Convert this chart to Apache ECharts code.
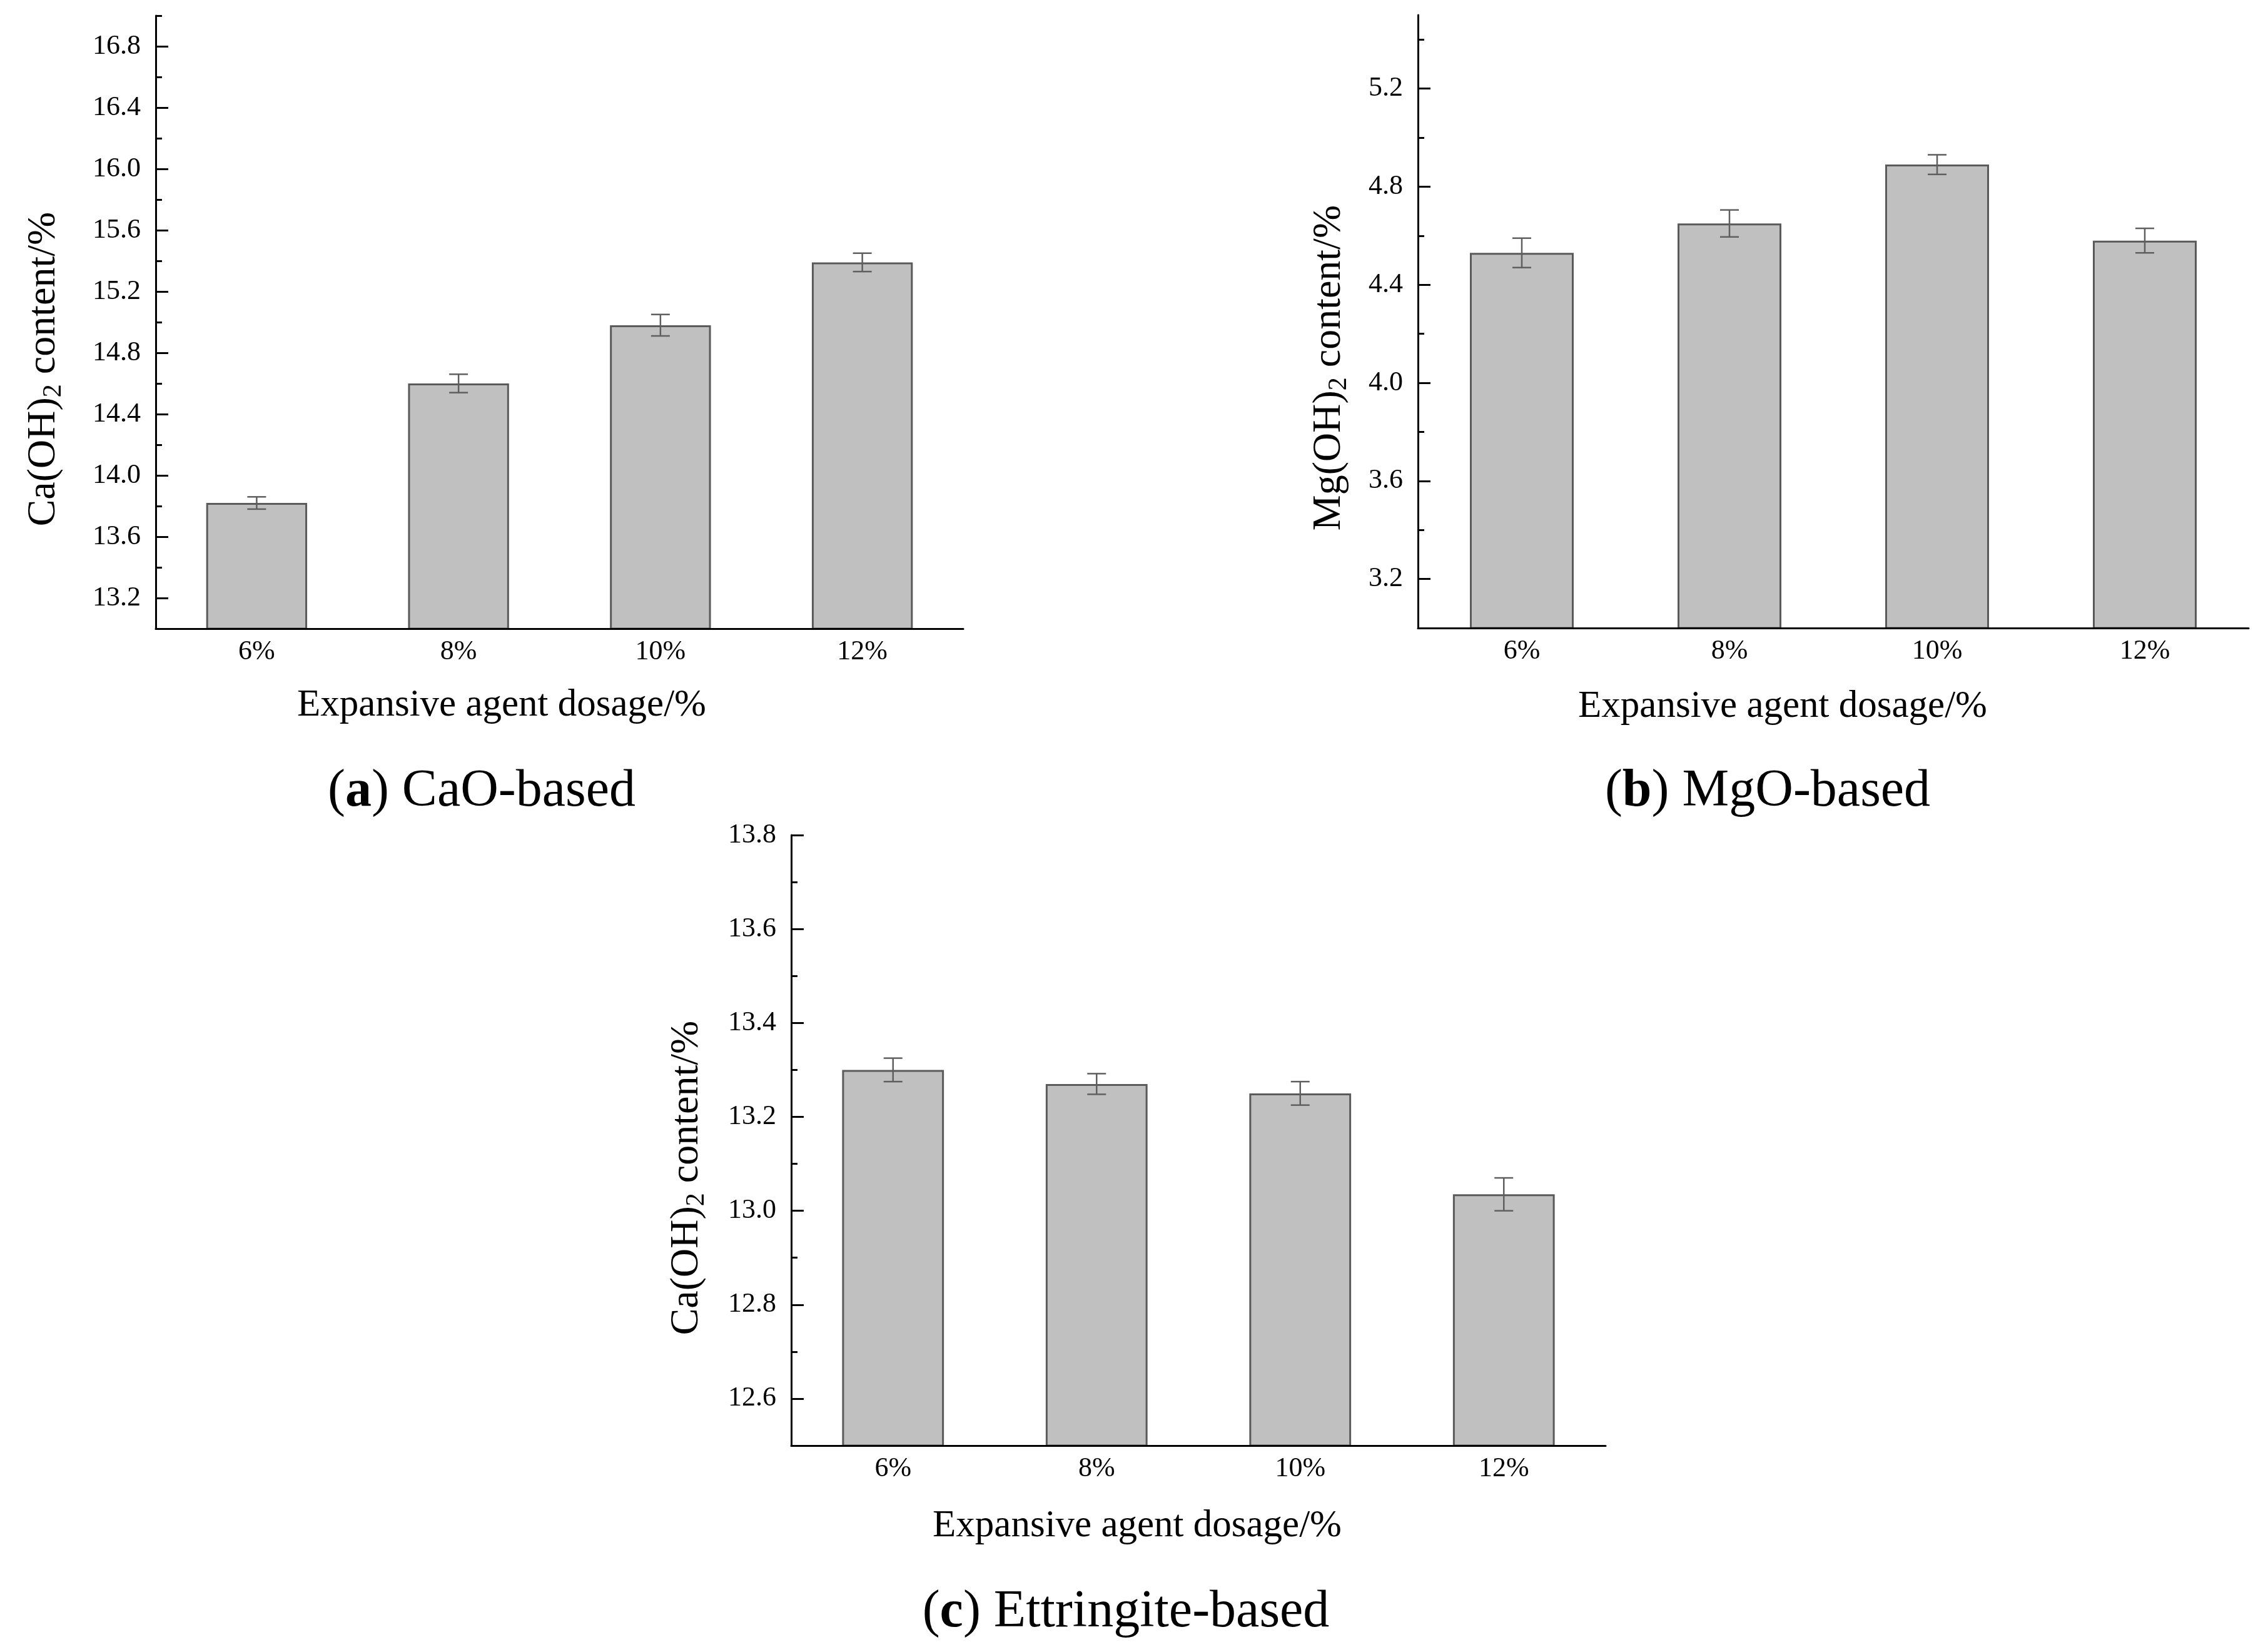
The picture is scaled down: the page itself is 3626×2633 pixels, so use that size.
<!DOCTYPE html>
<html>
<head>
<meta charset="utf-8">
<script src="https://cdn.jsdelivr.net/npm/echarts@6/dist/echarts.min.js"></script>
<style>
  html, body { margin: 0; padding: 0; background: #fff; }
  #chart { width: 3626px; height: 2633px; }
</style>
</head>
<body>
<div id="chart"></div>
<script>
// categories shared by all three panels
const categories = ['6%', '8%', '10%', '12%'];

// (a) CaO-based
const caoValues = [13.82, 14.60, 14.98, 15.39];
const caoErrors = [0.04, 0.06, 0.07, 0.06];
const caoRange = [13.0, 17.0];
const caoMajorTicks = [13.2, 13.6, 14.0, 14.4, 14.8, 15.2, 15.6, 16.0, 16.4, 16.8];
const caoMinorTicks = [13.4, 13.8, 14.2, 14.6, 15.0, 15.4, 15.8, 16.2, 16.6, 17.0];

// (b) MgO-based
const mgoValues = [4.53, 4.65, 4.89, 4.58];
const mgoErrors = [0.06, 0.055, 0.04, 0.05];
const mgoRange = [3.0, 5.5];
const mgoMajorTicks = [3.2, 3.6, 4.0, 4.4, 4.8, 5.2];
const mgoMinorTicks = [3.4, 3.8, 4.2, 4.6, 5.0, 5.4];

// (c) Ettringite-based
const ettValues = [13.30, 13.27, 13.25, 13.035];
const ettErrors = [0.025, 0.022, 0.025, 0.035];
const ettRange = [12.5, 13.8];
const ettMajorTicks = [12.6, 12.8, 13.0, 13.2, 13.4, 13.6, 13.8];
const ettMinorTicks = [12.7, 12.9, 13.1, 13.3, 13.5, 13.7];

const FONT = 'Liberation Serif';

const panels = [
  { grid: { left: 249, top: 25, width: 1291, height: 980 }, range: caoRange, majors: caoMajorTicks, minors: caoMinorTicks, values: caoValues, errors: caoErrors },
  { grid: { left: 2267, top: 24, width: 1328, height: 980 }, range: mgoRange, majors: mgoMajorTicks, minors: mgoMinorTicks, values: mgoValues, errors: mgoErrors },
  { grid: { left: 1265, top: 1335, width: 1302, height: 976 }, range: ettRange, majors: ettMajorTicks, minors: ettMinorTicks, values: ettValues, errors: ettErrors }
];

const grids = [], xAxes = [], yAxes = [], series = [];

panels.forEach((p, i) => {
  grids.push(Object.assign({ containLabel: false }, p.grid));

  // main x axis: line, labels, ticks under each bar
  xAxes.push({
    type: 'category', gridIndex: i, position: 'bottom', data: categories, z: 5,
    axisLine: { onZero: false, lineStyle: { color: '#000', width: 3 } },
    axisTick: { alignWithLabel: true, inside: true, length: 20, lineStyle: { color: '#000', width: 3 } },
    axisLabel: { color: '#000', fontFamily: FONT, fontSize: 44, margin: 15 },
    splitLine: { show: false }
  });
  // second x axis: short ticks at category boundaries
  xAxes.push({
    type: 'category', gridIndex: i, position: 'bottom', data: categories, z: 5,
    axisLine: { show: false, onZero: false },
    axisTick: { alignWithLabel: false, inside: true, length: 10, lineStyle: { color: '#000', width: 3 } },
    axisLabel: { show: false },
    splitLine: { show: false }
  });

  yAxes.push({
    type: 'value', gridIndex: i, position: 'left', min: p.range[0], max: p.range[1], z: 5,
    axisLine: { show: true, onZero: false, lineStyle: { color: '#000', width: 3 } },
    axisTick: { show: true, inside: true, length: 20, customValues: p.majors, lineStyle: { color: '#000', width: 3 } },
    axisLabel: { customValues: p.majors, color: '#000', fontFamily: FONT, fontSize: 44, margin: 24, formatter: v => v.toFixed(1) },
    splitLine: { show: false }
  });
  // second y axis on the same side: short minor ticks
  yAxes.push({
    type: 'value', gridIndex: i, position: 'left', offset: 0, min: p.range[0], max: p.range[1], z: 5,
    axisLine: { show: false, onZero: false },
    axisTick: { show: true, inside: true, length: 10, customValues: p.minors, lineStyle: { color: '#000', width: 3 } },
    axisLabel: { show: false },
    splitLine: { show: false }
  });

  series.push({
    type: 'bar', xAxisIndex: i * 2, yAxisIndex: i * 2, data: p.values,
    barWidth: '50%', z: 2,
    itemStyle: { color: '#c0c0c0', borderColor: '#5a5a5a', borderWidth: 3 }
  });

  series.push({
    type: 'custom', xAxisIndex: i * 2, yAxisIndex: i * 2, z: 6,
    data: p.values.map((v, k) => [k, v, p.errors[k]]),
    encode: { x: 0, y: 1 },
    renderItem: (params, api) => {
      const x = api.value(0), v = api.value(1), e = api.value(2);
      const hi = api.coord([x, v + e]);
      const lo = api.coord([x, v - e]);
      const cap = 15;
      const st = { stroke: '#5f5f5f', lineWidth: 2.5 };
      return {
        type: 'group',
        children: [
          { type: 'line', shape: { x1: hi[0], y1: hi[1], x2: lo[0], y2: lo[1] }, style: st },
          { type: 'line', shape: { x1: hi[0] - cap, y1: hi[1], x2: hi[0] + cap, y2: hi[1] }, style: st },
          { type: 'line', shape: { x1: lo[0] - cap, y1: lo[1], x2: lo[0] + cap, y2: lo[1] }, style: st }
        ]
      };
    }
  });
});

const titleStyle = { fill: '#000', font: '61px "Liberation Serif"', align: 'center', verticalAlign: 'middle' };

function xTitle(x, y) {
  return { type: 'text', x: x, y: y, z: 10, style: Object.assign({ text: 'Expansive agent dosage/%' }, titleStyle) };
}

function yTitle(x, y, chem) {
  return {
    type: 'text', x: x, y: y, rotation: Math.PI / 2, z: 10,
    style: {
      text: '{m|' + chem + '(OH)}{s|2}{m| content/%}',
      align: 'center', verticalAlign: 'middle',
      rich: {
        m: { fontFamily: FONT, fontSize: 64, lineHeight: 74, fill: '#000' },
        s: { fontFamily: FONT, fontSize: 42, lineHeight: 42, verticalAlign: 'bottom', fill: '#000' }
      }
    }
  };
}

function caption(x, y, letter, name) {
  return {
    type: 'text', x: x, y: y, z: 10,
    style: {
      text: '{n|(}{b|' + letter + '}{n|) ' + name + '}',
      align: 'center', verticalAlign: 'middle',
      rich: {
        n: { fontFamily: FONT, fontSize: 84, fill: '#000' },
        b: { fontFamily: FONT, fontSize: 84, fontWeight: 'bold', fill: '#000' }
      }
    }
  };
}

const chart = echarts.init(document.getElementById('chart'));
chart.setOption({
  backgroundColor: '#fff',
  animation: false,
  grid: grids,
  xAxis: xAxes,
  yAxis: yAxes,
  series: series,
  graphic: [
    xTitle(802, 1128), xTitle(2850, 1130), xTitle(1818, 2440),
    yTitle(70, 590, 'Ca'), yTitle(2125, 588, 'Mg'), yTitle(1098, 1883, 'Ca'),
    caption(770, 1266, 'a', 'CaO-based'),
    caption(2826, 1266, 'b', 'MgO-based'),
    caption(1800, 2578, 'c', 'Ettringite-based')
  ]
});
</script>
</body>
</html>
